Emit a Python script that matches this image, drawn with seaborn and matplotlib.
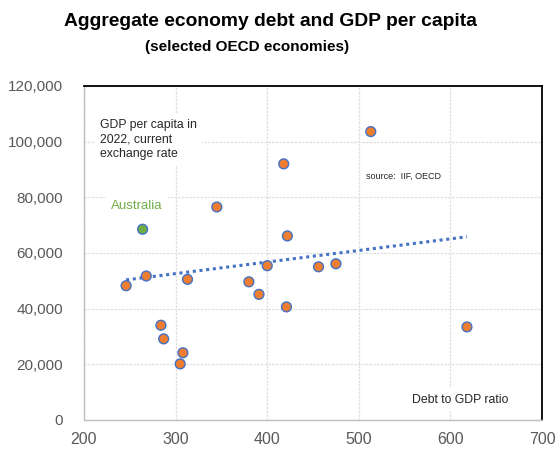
import numpy as np
import pandas as pd
import matplotlib
matplotlib.use("Agg")
import matplotlib.pyplot as plt
import seaborn as sns

# Debt to GDP ratio (%) and GDP per capita (USD, 2022)
debt_ratio = [246, 268, 313, 380, 400, 391, 421, 284, 287, 308, 305,
              456, 475, 618, 345, 418, 422, 513, 264]
gdp_pc = [48200, 51700, 50500, 49600, 55400, 45100, 40600, 34000, 29100, 24100, 20100,
          55000, 56100, 33400, 76500, 92000, 66100, 103600, 68500]
country = ["other"] * 18 + ["Australia"]

# linear trendline as shown on the chart
trend_x = [246, 618]
trend_y = [50300, 65800]

df = pd.DataFrame({"debt": debt_ratio, "gdp": gdp_pc, "country": country})

sns.set_style("white")
plt.rcParams['font.family'] = ['Liberation Sans', 'DejaVu Sans']

fig = plt.figure(figsize=(5.56, 4.5), dpi=100)
ax = fig.add_axes([0.151, 0.067, 0.824, 0.742])

sns.lineplot(x=trend_x, y=trend_y, ax=ax, linestyle=(0, (1, 1.2)), color="#4472C4",
             linewidth=2.2, zorder=2)

palette = {"other": "#ED7D31", "Australia": "#70AD47"}
sns.scatterplot(data=df, x="debt", y="gdp", hue="country", palette=palette,
                s=50, edgecolor="#4472C4", linewidth=1.0, legend=False, ax=ax, zorder=3)

ax.set_xlim(200, 700)
ax.set_ylim(0, 120000)
ax.set_xticks(range(200, 701, 100))
ax.set_yticks(range(0, 120001, 20000))
ax.set_yticklabels([f"{v:,}" for v in range(0, 120001, 20000)])
ax.tick_params(axis="y", labelsize=11, labelcolor="#595959", length=0, pad=15)
ax.tick_params(axis="x", labelsize=11.5, labelcolor="#595959", length=0, pad=9)
ax.set_xlabel("")
ax.set_ylabel("")
ax.grid(True, color="#dedede", linewidth=0.9, linestyle=(0, (2, 1)))
ax.set_axisbelow(True)

for side in ["top", "right"]:
    ax.spines[side].set_color("black")
    ax.spines[side].set_linewidth(1.3)
for side in ["left", "bottom"]:
    ax.spines[side].set_color("#bfbfbf")
    ax.spines[side].set_linewidth(1.0)

box = dict(facecolor="white", edgecolor="none", pad=4)
ax.text(217, 108300, "GDP per capita in\n2022, current\nexchange rate", fontsize=8.8,
        va="top", ha="left", color="#262626", bbox=box, linespacing=1.3)
ax.text(229, 77000, "Australia", fontsize=9.5, color="#70AD47", va="center",
        ha="left", bbox=box)
ax.text(508, 87600, "source:  IIF, OECD", fontsize=6.5, color="#262626", va="center",
        ha="left")
ax.text(558, 7200, "Debt to GDP ratio", fontsize=8.8, color="#262626", va="center",
        ha="left", bbox=box)

fig.text(0.486, 0.953, "Aggregate economy debt and GDP per capita", fontsize=13.9,
         fontweight="bold", ha="center", va="center", color="black")
fig.text(0.445, 0.896, "(selected OECD economies)", fontsize=11,
         fontweight="bold", ha="center", va="center", color="black")

fig.savefig("out.png", dpi=100)
